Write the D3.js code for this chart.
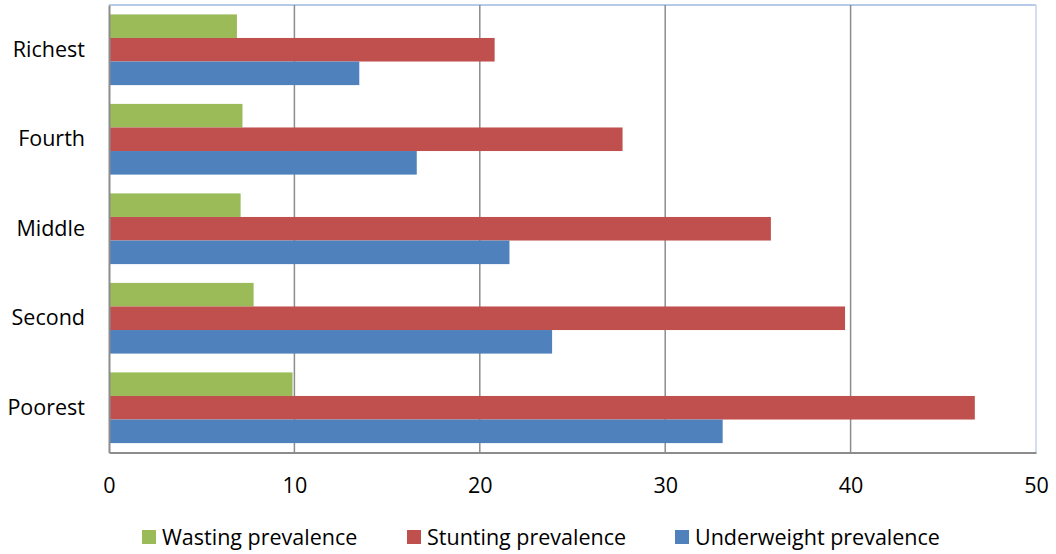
<!DOCTYPE html>
<html><head><meta charset="utf-8">
<script src="https://cdn.jsdelivr.net/npm/d3@7"></script>
<style>body{margin:0;background:#fff;}svg{display:block;}</style>
</head><body>
<svg id="c" width="1056" height="554"></svg>
<script>
const categories = ["Richest","Fourth","Middle","Second","Poorest"];
const seriesNames = ["Wasting prevalence","Stunting prevalence","Underweight prevalence"];
const wasting = [6.9, 7.2, 7.1, 7.8, 9.9];
const stunting = [20.8, 27.7, 35.7, 39.7, 46.7];
const underweight = [13.5, 16.6, 21.6, 23.9, 33.1];
const xTicks = [0,10,20,30,40,50];
const colors = ["#9BBB59","#C0504D","#4F81BD"];
const seriesVals = [wasting, stunting, underweight];

const svg = d3.select("#c");
const font = "'Open Sans', Lato, sans-serif";
const L=109, R=1036, T=5, B=452.5;
const x = d3.scaleLinear().domain([0,50]).range([L,R]);
const y = d3.scaleBand().domain(categories).range([T,B]).paddingInner(0.21).paddingOuter(0.105);
const ys = d3.scaleBand().domain(seriesNames).range([0,y.bandwidth()]);

// plot border (top/right)
svg.append("line").attr("x1",L).attr("x2",R).attr("y1",T).attr("y2",T).attr("stroke","#9fb8df").attr("stroke-width",1.5);
svg.append("line").attr("x1",R).attr("x2",R).attr("y1",T).attr("y2",B).attr("stroke","#c5d3ea").attr("stroke-width",1.5);

// gridlines
svg.append("g").selectAll("line").data(xTicks.slice(1,-1)).join("line")
  .attr("x1",d=>x(d)).attr("x2",d=>x(d)).attr("y1",T).attr("y2",B)
  .attr("stroke","#8c8c8c").attr("stroke-width",1.5);

// bars
categories.forEach((c,i)=>{
  seriesNames.forEach((s,j)=>{
    svg.append("rect")
      .attr("x",x(0)).attr("y",y(c)+ys(s))
      .attr("width",x(seriesVals[j][i])-x(0)).attr("height",ys.bandwidth())
      .attr("fill",colors[j]);
  });
});

// axes
const xAxis = d3.axisBottom(x).tickValues(xTicks).tickSize(0).tickPadding(25);
const gx = svg.append("g").attr("transform",`translate(0,${B})`).call(xAxis);
gx.select(".domain").attr("stroke","#8c8c8c").attr("stroke-width",2);
gx.selectAll("text").attr("font-family",font).attr("font-size",21.5).attr("fill","#000");

const yAxis = d3.axisLeft(y).tickSize(0).tickPadding(24);
const gy = svg.append("g").attr("transform",`translate(${L},0)`).call(yAxis);
gy.select(".domain").attr("stroke","#8c8c8c").attr("stroke-width",2);
gy.selectAll("text").attr("font-family",font).attr("font-size",21.5).attr("fill","#000");

// legend
const legX = [142, 407, 675];
const lg = svg.append("g");
seriesNames.forEach((s,j)=>{
  lg.append("rect").attr("x",legX[j]).attr("y",530).attr("width",14).attr("height",14).attr("fill",colors[j]);
  lg.append("text").attr("x",legX[j]+20).attr("y",537.5).attr("dy","0.35em")
    .attr("font-family",font).attr("font-size",21.5).attr("fill","#000").text(s);
});
</script>
</body></html>
